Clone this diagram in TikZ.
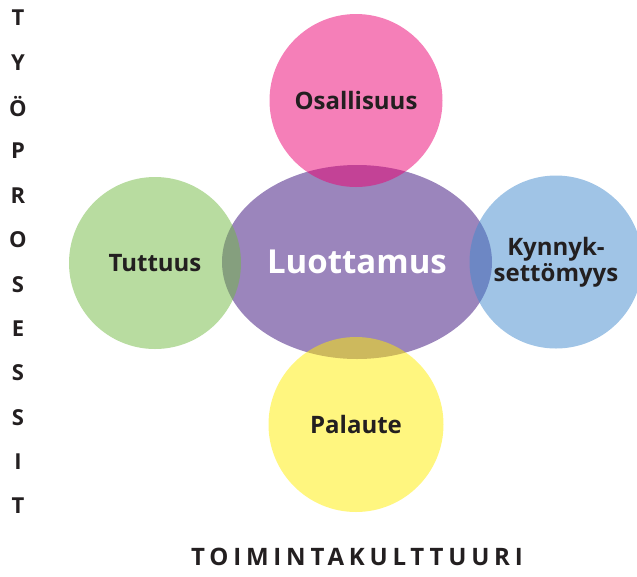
\documentclass[tikz,border=0pt]{standalone}
\usetikzlibrary{shapes.geometric}
\usepackage{fontspec}
\setmainfont{Open Sans}
\newfontfamily\spacedfont{Open Sans}[LetterSpace=20]
\definecolor{txt}{HTML}{231F20}
\definecolor{cpurple}{HTML}{9B85BC}
\definecolor{cpink}{HTML}{EB0071}
\definecolor{cgreen}{HTML}{71B941}
\definecolor{cblue}{HTML}{418ACD}
\definecolor{cyellow}{HTML}{FFED00}
\tikzset{
  bubble/.style={circle, minimum size=#1, inner sep=0pt, fill opacity=0.5, text opacity=1, text=txt, font=\bfseries\fontsize{24}{26}\selectfont, align=center},
  sideletter/.style={text=txt, font=\bfseries\fontsize{22}{22}\selectfont, inner sep=0pt}
}
\begin{document}
\begin{tikzpicture}[x=1pt,y=-1pt]
\useasboundingbox (0,0) rectangle (637,576);
\node[ellipse, fill=cpurple, minimum width=270, minimum height=194, inner sep=0pt] (luot) at (357,262) {};
\node[bubble=173, fill=cpink] (osa) at (356,100.5) {Osallisuus};
\node[bubble=172, fill=cgreen] (tut) at (155,263) {Tuttuus};
\node[bubble=173, fill=cblue] (kyn) at (556,262) {Kynnyk-\\settömyys};
\node[bubble=175, fill=cyellow] (pal) at (356,424.5) {Palaute};
\node[text=white, font=\bfseries\fontsize{33}{36}\selectfont] (luottext) at (luot.center) {Luottamus};
\foreach \l [count=\i from 0] in {T,Y,Ö,P,R,O,S,E,S,S,I,T}{
  \node[sideletter] (s\i) at (18,{18+44.36*\i}) {\l};
}
\node[text=txt, font=\spacedfont\bfseries\fontsize{24}{24}\selectfont] (toim) at (357,557) {TOIMINTAKULTTUURI};
\end{tikzpicture}
\end{document}
